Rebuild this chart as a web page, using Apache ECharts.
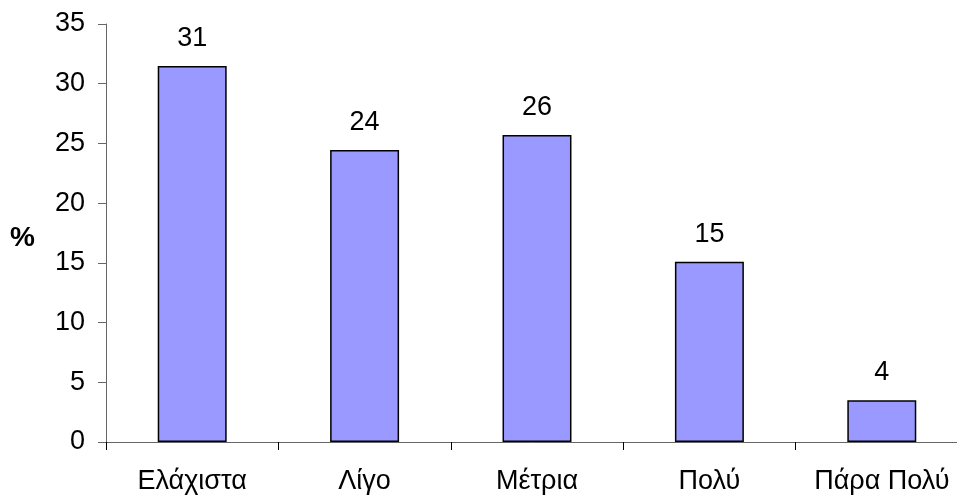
<!DOCTYPE html>
<html>
<head>
<meta charset="utf-8">
<script src="https://cdn.jsdelivr.net/npm/echarts@6/dist/echarts.min.js"></script>
<style>
html,body{margin:0;padding:0;background:#fff;}
#chart{width:957px;height:497px;}
</style>
</head>
<body>
<div id="chart"></div>
<script>
const categories = ['Ελάχιστα', 'Λίγο', 'Μέτρια', 'Πολύ', 'Πάρα Πολύ'];
const values = [31.49, 24.45, 25.7, 15.1, 3.5];
const yTicks = { min: 0, max: 35, interval: 5 };
const yTitle = '%';

const chart = echarts.init(document.getElementById('chart'), null, { renderer: 'canvas' });
const font = '"Liberation Sans", Arial, sans-serif';
chart.setOption({
  animation: false,
  backgroundColor: '#ffffff',
  grid: { left: 106, top: 24, bottom: 55, right: -11, containLabel: false, outerBoundsMode: 'none' },
  xAxis: {
    type: 'category',
    data: categories,
    axisLine: { lineStyle: { color: '#666', width: 1 } },
    axisTick: { show: true, length: 8, lineStyle: { color: '#000' }, alignWithLabel: false },
    axisLabel: { color: '#000', fontSize: 27, fontFamily: font, margin: 26, interval: 0, hideOverlap: false }
  },
  yAxis: {
    type: 'value',
    min: yTicks.min, max: yTicks.max, interval: yTicks.interval,
    name: yTitle,
    nameLocation: 'middle',
    nameRotate: 0,
    nameGap: 71,
    nameTextStyle: { color: '#000', fontSize: 28, fontWeight: 'bold', fontFamily: font, verticalAlign: 'top', lineHeight: 10 },
    splitLine: { show: false },
    axisLine: { show: true, lineStyle: { color: '#666', width: 1 } },
    axisTick: { show: true, length: 8, lineStyle: { color: '#666' } },
    axisLabel: { color: '#000', fontSize: 27, fontFamily: font, margin: 21 }
  },
  series: [{
    type: 'bar',
    data: values,
    barWidth: '40%',
    itemStyle: { color: '#9999FF', borderColor: '#000', borderWidth: 1.5 },
    label: {
      show: true, position: 'top', distance: 14,
      color: '#000', fontSize: 27, fontFamily: font,
      formatter: p => String(Math.round(p.value))
    }
  }]
});
</script>
</body>
</html>
